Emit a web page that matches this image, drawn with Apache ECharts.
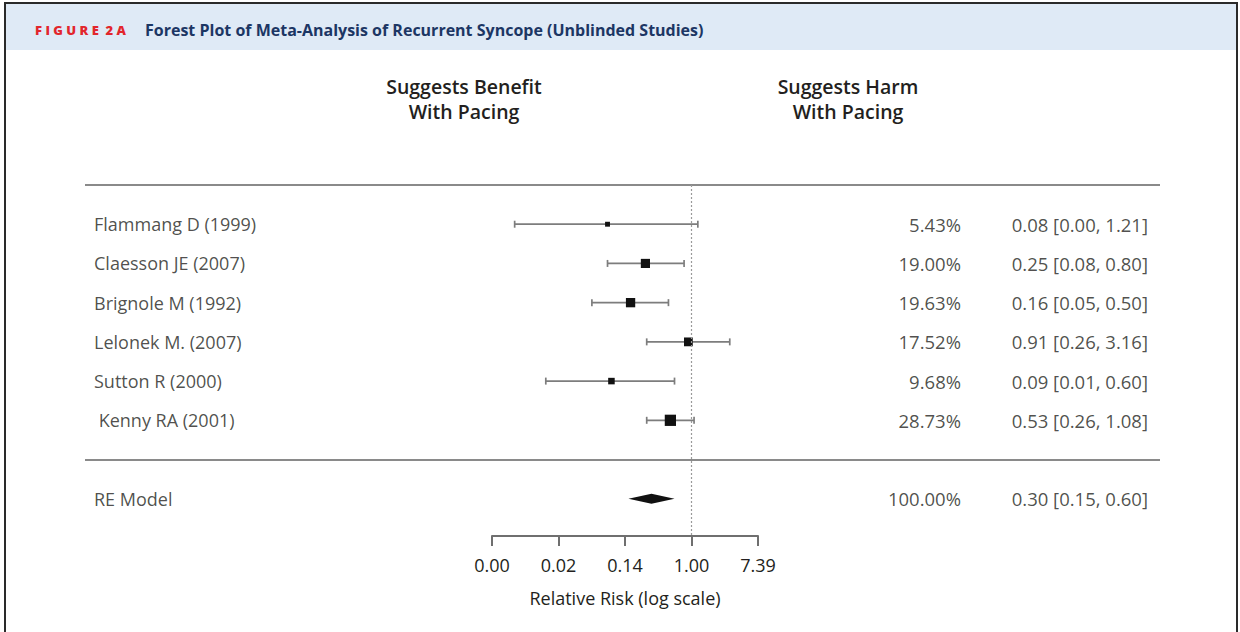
<!DOCTYPE html>
<html>
<head>
<meta charset="utf-8">
<script src="https://cdn.jsdelivr.net/npm/echarts@6/dist/echarts.min.js"></script>
<style>
  html, body { margin: 0; padding: 0; background: #fff; }
  #chart { width: 1240px; height: 632px; }
</style>
</head>
<body>
<div id="chart"></div>
<script>
// --- data ---
const STUDIES = ['Flammang D (1999)', 'Claesson JE (2007)', 'Brignole M (1992)',
  'Lelonek M. (2007)', 'Sutton R (2000)', ' Kenny RA (2001)'];
const RR      = [0.08, 0.25, 0.16, 0.91, 0.09, 0.53];
const CI_LO   = [0.0049, 0.08, 0.05, 0.26, 0.0125, 0.26];
const CI_HI   = [1.21, 0.80, 0.50, 3.16, 0.60, 1.08];
const WEIGHTS = [5.43, 19.00, 19.63, 17.52, 9.68, 28.73];

const POOLED_NAME = 'RE Model';
const POOLED = [0.30, 0.15, 0.60];   // estimate, lower, upper
const POOLED_WEIGHT = 100;

// x axis: natural-log units, labelled back on the RR scale
const TICK_LOG    = [-6, -4, -2, 0, 2];
const TICK_LABELS = ['0.00', '0.02', '0.14', '1.00', '7.39'];

// --- layout ---
const FONT = '"Open Sans", "Noto Sans", sans-serif';
const INK = '#231f20';
const GREY = '#8a8a8a';
const TOP = 185, PLOT_H = 351, Y_MAX = 8.95;
const POOLED_ROW = 8, SEP_ROW = 7;
const COL_NAME = 9, COL_WEIGHT = 876, COL_CI = 1063;   // in grid-0 pixel units

const chart = echarts.init(document.getElementById('chart'), null, { renderer: 'svg' });

const rows = STUDIES.map((_, i) => i + 1);
const fmt = (v) => v.toFixed(2);
const ciText = (e, lo, hi) => `${fmt(e)} [${fmt(lo)}, ${fmt(hi)}]`;

const textRows = STUDIES.map((name, i) => ({
  name, row: rows[i], weight: WEIGHTS[i].toFixed(2) + '%',
  ci: ciText(RR[i], CI_LO[i], CI_HI[i]),
})).concat([{
  name: POOLED_NAME, row: POOLED_ROW, weight: POOLED_WEIGHT.toFixed(2) + '%',
  ci: ciText(POOLED[0], POOLED[1], POOLED[2]),
}]);

const labelStyle = { fontFamily: FONT, fontSize: 18, color: INK };

function textColumn(x, key, pos, size) {
  return {
    type: 'scatter', xAxisIndex: 0, yAxisIndex: 0, symbolSize: 0, silent: true,
    data: textRows.map((r) => ({ value: [x, r.row], label: { formatter: r[key] } })),
    label: Object.assign({ show: true, position: pos, distance: 0 }, labelStyle,
      size ? { fontSize: size } : {}),
  };
}

const studyData = STUDIES.map((_, i) => [
  Math.log(CI_LO[i]), Math.log(CI_HI[i]), Math.log(RR[i]), rows[i], WEIGHTS[i]]);

function renderStudy(params, api) {
  const y = api.value(3);
  const a = api.coord([api.value(0), y]);
  const b = api.coord([api.value(1), y]);
  const c = api.coord([api.value(2), y]);
  const s = 2.1 * Math.sqrt(api.value(4));
  const line = { stroke: '#7d7d7d', lineWidth: 1.7 };
  return {
    type: 'group',
    children: [
      { type: 'line', shape: { x1: a[0], y1: a[1], x2: b[0], y2: b[1] }, style: line },
      { type: 'line', shape: { x1: a[0], y1: a[1] - 3.5, x2: a[0], y2: a[1] + 3.5 }, style: line },
      { type: 'line', shape: { x1: b[0], y1: b[1] - 3.5, x2: b[0], y2: b[1] + 3.5 }, style: line },
      { type: 'rect', shape: { x: c[0] - s / 2, y: c[1] - s / 2, width: s, height: s },
        style: { fill: '#111' } },
    ],
  };
}

function renderDiamond(params, api) {
  const y = api.value(3);
  const e = api.coord([api.value(0), y]);
  const lo = api.coord([api.value(1), y]);
  const hi = api.coord([api.value(2), y]);
  return {
    type: 'polygon',
    shape: { points: [[lo[0], lo[1]], [e[0], e[1] - 5], [hi[0], hi[1]], [e[0], e[1] + 5]] },
    style: { fill: '#111' },
  };
}

chart.setOption({
  animation: false,
  grid: [
    { left: 85, width: 1075, top: TOP, height: PLOT_H },
    { left: 492, width: 266, top: TOP, height: PLOT_H },
  ],
  xAxis: [
    { gridIndex: 0, type: 'value', min: 0, max: 1075, show: false },
    {
      gridIndex: 1, type: 'value', position: 'bottom',
      min: TICK_LOG[0], max: TICK_LOG[TICK_LOG.length - 1], interval: 2,
      name: 'Relative Risk (log scale)', nameLocation: 'middle', nameGap: 53,
      nameMoveOverlap: false,
      nameTextStyle: { fontFamily: FONT, fontSize: 18, color: INK },
      axisLine: { onZero: false, lineStyle: { color: '#6f6f6f', width: 2 } },
      axisTick: { length: 10, lineStyle: { color: '#6f6f6f', width: 2 } },
      axisLabel: {
        margin: 20, fontFamily: FONT, fontSize: 18, color: INK,
        formatter: (v) => TICK_LABELS[TICK_LOG.indexOf(v)] || '',
      },
      splitLine: { show: false },
    },
  ],
  yAxis: [
    { gridIndex: 0, type: 'value', min: 0, max: Y_MAX, inverse: true, show: false },
    { gridIndex: 1, type: 'value', min: 0, max: Y_MAX, inverse: true, show: false },
  ],
  series: [
    Object.assign(textColumn(COL_NAME, 'name', 'right'), {
      markLine: {
        silent: true, symbol: 'none', label: { show: false },
        lineStyle: { color: GREY, width: 2, type: 'solid' },
        data: [{ yAxis: 0 }, { yAxis: SEP_ROW }],
      },
    }),
    textColumn(COL_WEIGHT, 'weight', 'left', 18.5),
    textColumn(COL_CI, 'ci', 'left', 18.5),
    {
      type: 'custom', xAxisIndex: 1, yAxisIndex: 1, renderItem: renderStudy,
      data: studyData, clip: false, silent: true,
      markLine: {
        silent: true, symbol: 'none', label: { show: false },
        lineStyle: { color: '#9a9a9a', width: 1.2, type: [2, 2] },
        data: [{ xAxis: 0 }],
      },
    },
    {
      type: 'custom', xAxisIndex: 1, yAxisIndex: 1, renderItem: renderDiamond, silent: true,
      data: [[Math.log(POOLED[0]), Math.log(POOLED[1]), Math.log(POOLED[2]), POOLED_ROW]],
    },
  ],
  graphic: [
    { type: 'rect', z: -10, shape: { x: 6, y: 4, width: 1230, height: 46 }, style: { fill: '#dfeaf6' } },
    { type: 'rect', z: -9, shape: { x: 5, y: 3, width: 1232, height: 640 },
      style: { fill: null, stroke: '#2a2a2a', lineWidth: 2 } },
    { type: 'text', x: 35, y: 30, style: {
      text: 'F I G U R E  2 A', fill: '#e2262c', font: '800 13px ' + FONT,
      verticalAlign: 'middle' } },
    { type: 'text', x: 145, y: 30, style: {
      text: 'Forest Plot of Meta-Analysis of Recurrent Syncope (Unblinded Studies)',
      fill: '#1c3664', font: 'bold 16px ' + FONT, verticalAlign: 'middle' } },
    { type: 'text', x: 464, y: 74, style: {
      text: 'Suggests Benefit\nWith Pacing', fill: INK, align: 'center', verticalAlign: 'top',
      lineHeight: 25, font: '600 19.5px ' + FONT } },
    { type: 'text', x: 848, y: 74, style: {
      text: 'Suggests Harm\nWith Pacing', fill: INK, align: 'center', verticalAlign: 'top',
      lineHeight: 25, font: '600 19.5px ' + FONT } },
  ],
});
</script>
</body>
</html>
